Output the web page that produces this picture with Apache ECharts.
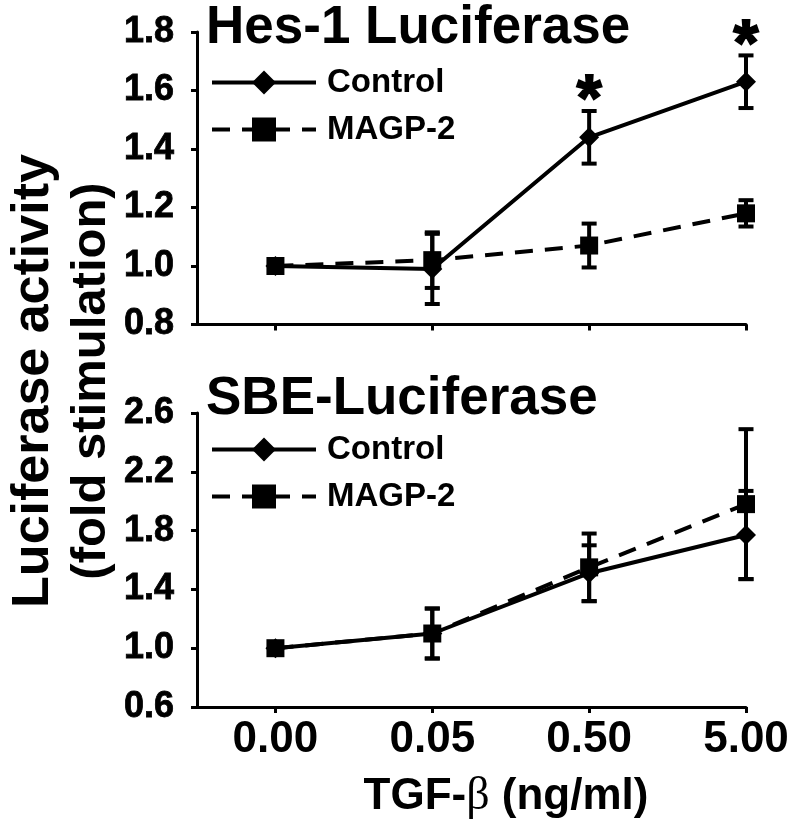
<!DOCTYPE html>
<html><head><meta charset="utf-8">
<script src="https://cdn.jsdelivr.net/npm/echarts@6/dist/echarts.min.js"></script>
<style>html,body{margin:0;padding:0;background:#fff}#c{width:800px;height:833px}</style>
</head><body><div id="c"></div>
<script>
const categories = ['0.00', '0.05', '0.50', '5.00'];
const hesControl = [1.00, 0.99, 1.44, 1.63];
const hesControlErr = [0, 0.12, 0.09, 0.09];
const hesMagp = [1.00, 1.02, 1.07, 1.18];
const hesMagpErr = [0, 0.095, 0.075, 0.045];
const hesStars = [null, null, 1.61, 1.80];
const sbeControl = [1.00, 1.10, 1.51, 1.77];
const sbeControlErr = [0, 0.17, 0.19, 0.30];
const sbeMagp = [1.00, 1.10, 1.55, 1.98];
const sbeMagpErr = [0, 0.17, 0.23, 0.51];
const hesTicks = [0.8, 1.0, 1.2, 1.4, 1.6, 1.8];
const sbeTicks = [0.6, 1.0, 1.4, 1.8, 2.2, 2.6];

const FONT = 'Liberation Sans, Arial, sans-serif';
const BLACK = '#000';

function pts(vals) { return vals.map((v, i) => [i, v]); }
function errData(vals, errs) {
  return vals.map((v, i) => [i, v - errs[i], v + errs[i]]).filter((d, i) => errs[i] > 0);
}
function errRender(params, api) {
  const i = api.value(0);
  const lo = api.coord([i, api.value(1)]);
  const hi = api.coord([i, api.value(2)]);
  const w = 7.5;
  const st = { stroke: BLACK, lineWidth: 4 };
  return { type: 'group', children: [
    { type: 'line', shape: { x1: lo[0], y1: lo[1], x2: hi[0], y2: hi[1] }, style: st },
    { type: 'line', shape: { x1: lo[0] - w, y1: lo[1], x2: lo[0] + w, y2: lo[1] }, style: st },
    { type: 'line', shape: { x1: hi[0] - w, y1: hi[1], x2: hi[0] + w, y2: hi[1] }, style: st }
  ]};
}

function xAxis(grid, showLabels) {
  return {
    gridIndex: grid, type: 'value', min: -0.5, max: 3,
    axisLine: { onZero: false, lineStyle: { color: BLACK, width: 3 } },
    axisTick: { show: true, customValues: [0, 1, 2, 3], length: 6, lineStyle: { color: BLACK, width: 3 } },
    axisLabel: showLabels ? {
      show: true, customValues: [0, 1, 2, 3], formatter: v => categories[Math.round(v)],
      fontSize: 44, fontWeight: 'bold', fontFamily: FONT, color: BLACK, margin: 11
    } : { show: false },
    splitLine: { show: false }
  };
}
function yAxis(grid, ticks) {
  return {
    gridIndex: grid, type: 'value', min: ticks[0], max: ticks[ticks.length - 1],
    interval: ticks[1] - ticks[0],
    axisLine: { show: true, onZero: false, lineStyle: { color: BLACK, width: 3 } },
    axisTick: { show: true, customValues: ticks, length: 6, lineStyle: { color: BLACK, width: 3 } },
    axisLabel: { customValues: ticks, formatter: v => v.toFixed(1), fontSize: 36, fontWeight: 'bold',
      fontFamily: FONT, color: BLACK, margin: 23, textBorderColor: BLACK, textBorderWidth: 0.8 },
    splitLine: { show: false }
  };
}
function lineSeries(name, data, grid, symbol, size, dashed) {
  return {
    name: name, type: 'line', xAxisIndex: grid, yAxisIndex: grid, data: pts(data),
    symbol: symbol, symbolSize: size, z: 3,
    itemStyle: { color: BLACK, opacity: 1 },
    lineStyle: { color: BLACK, width: 4, type: dashed ? [18, 12] : 'solid' },
    animation: false
  };
}
function errSeries(vals, errs, grid) {
  return {
    type: 'custom', xAxisIndex: grid, yAxisIndex: grid, data: errData(vals, errs),
    encode: { x: 0, y: [1, 2] }, renderItem: errRender, z: 2, animation: false, silent: true
  };
}
function legend(top) {
  return {
    data: ['Control', 'MAGP-2'], orient: 'vertical', left: 210, top: top,
    itemWidth: 104, itemHeight: 30, itemGap: 14, padding: 0, selectedMode: false,
    lineStyle: { width: 4 },
    textStyle: { fontSize: 33, fontWeight: 'bold', fontFamily: FONT, color: BLACK, lineHeight: 33, padding: [0, 0, 0, 6] }
  };
}

const chart = echarts.init(document.getElementById('c'), null, { renderer: 'canvas' });
chart.setOption({
  backgroundColor: '#fff',
  animation: false,
  title: [
    { text: 'Hes-1 Luciferase', left: 206, top: 2, padding: 0,
      textStyle: { fontSize: 53, fontWeight: 'bold', fontFamily: FONT, color: BLACK } },
    { text: 'SBE-Luciferase', left: 206, top: 373, padding: 0,
      textStyle: { fontSize: 53, fontWeight: 'bold', fontFamily: FONT, color: BLACK } }
  ],
  legend: [legend(66), legend(433)],
  grid: [
    { left: 197, right: 54, top: 32, height: 292.5, containLabel: false },
    { left: 197, right: 54, top: 413, height: 294, containLabel: false }
  ],
  xAxis: [xAxis(0, false), xAxis(1, true)],
  yAxis: [yAxis(0, hesTicks), yAxis(1, sbeTicks)],
  series: [
    errSeries(hesControl, hesControlErr, 0),
    errSeries(hesMagp, hesMagpErr, 0),
    lineSeries('Control', hesControl, 0, 'diamond', 20, false),
    lineSeries('MAGP-2', hesMagp, 0, 'rect', 18, true),
    {
      type: 'scatter', xAxisIndex: 0, yAxisIndex: 0, symbolSize: 0, animation: false, silent: true,
      itemStyle: { opacity: 1, color: BLACK },
      data: hesStars.map((v, i) => [i, v]).filter(d => d[1] !== null),
      label: { show: true, position: 'inside', formatter: '*', offset: [0, 15], fontSize: 64,
        fontWeight: 'bold', fontFamily: FONT, color: BLACK, opacity: 1,
        textBorderColor: BLACK, textBorderWidth: 2 }
    },
    errSeries(sbeControl, sbeControlErr, 1),
    errSeries(sbeMagp, sbeMagpErr, 1),
    lineSeries('Control', sbeControl, 1, 'diamond', 20, false),
    lineSeries('MAGP-2', sbeMagp, 1, 'rect', 18, true)
  ],
  graphic: [
    { type: 'text', x: 34, y: 381, rotation: Math.PI / 2,
      style: { text: 'Luciferase activity', fontSize: 52, fontWeight: 'bold', fontFamily: FONT, fill: BLACK,
        align: 'center', verticalAlign: 'middle' } },
    { type: 'text', x: 91, y: 381, rotation: Math.PI / 2,
      style: { text: '(fold stimulation)', fontSize: 49, fontWeight: 'bold', fontFamily: FONT, fill: BLACK,
        align: 'center', verticalAlign: 'middle' } },
    { type: 'text', x: 506, y: 797,
      style: { text: '{a|TGF-}{b|β}{a| (ng/ml)}', align: 'center', verticalAlign: 'middle',
        rich: {
          a: { fontSize: 44, fontWeight: 'bold', fontFamily: FONT, fill: BLACK },
          b: { fontSize: 46, fontFamily: 'Liberation Serif, serif', fill: BLACK }
        } } }
  ]
});
</script>
</body></html>
